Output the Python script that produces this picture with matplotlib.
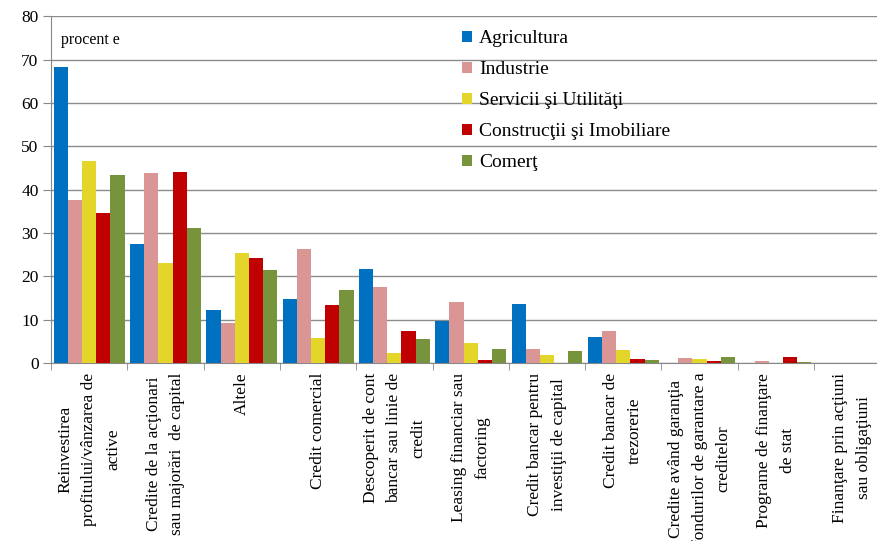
import numpy as np
import matplotlib
matplotlib.use("Agg")
import matplotlib.pyplot as plt

# categories (x axis)
categories = [
    "Reinvestirea\nprofitului/vânzarea de\nactive",
    "Credite de la acţionari\nsau majorări  de capital",
    "Altele",
    "Credit comercial",
    "Descoperit de cont\nbancar sau linie de\ncredit",
    "Leasing financiar sau\nfactoring",
    "Credit bancar pentru\ninvestiţii de capital",
    "Credit bancar de\ntrezorerie",
    "Credite având garanţia\nfondurilor de garantare a\ncreditelor",
    "Programe de finanţare\nde stat",
    "Finanţare prin acţiuni\nsau obligaţiuni",
]

# series values (percent)
agricultura = [68.4, 27.4, 12.2, 14.8, 21.8, 9.8, 13.7, 6.0, 0.0, 0.0, 0.0]
industrie = [37.7, 43.9, 9.2, 26.4, 17.6, 14.0, 3.3, 7.3, 1.1, 0.55, 0.0]
servicii = [46.7, 23.1, 25.4, 5.8, 2.4, 4.6, 1.8, 2.9, 0.85, 0.0, 0.0]
constructii = [34.7, 44.1, 24.2, 13.3, 7.5, 0.6, 0.0, 0.85, 0.4, 1.3, 0.0]
comert = [43.3, 31.1, 21.4, 16.9, 5.6, 3.2, 2.7, 0.7, 1.3, 0.3, 0.0]

series_names = ["Agricultura", "Industrie", "Servicii şi Utilităţi",
                "Construcţii şi Imobiliare", "Comerţ"]
colors = ["#0070C0", "#D99694", "#E3D52A", "#C00000", "#77933C"]
yticks = [0, 10, 20, 30, 40, 50, 60, 70, 80]

plt.rcParams['font.family'] = ['Liberation Serif', 'DejaVu Serif']

fig = plt.figure(figsize=(8.77, 5.41), dpi=100)
ax = fig.add_axes([0.0582, 0.329, 0.957, 0.641])

x = np.arange(len(categories))
w = 0.186
all_series = [agricultura, industrie, servicii, constructii, comert]
for i, (vals, name, c) in enumerate(zip(all_series, series_names, colors)):
    ax.bar(x + (i - 2) * w, vals, width=w, color=c, label=name, zorder=3)

ax.set_xlim(-0.5, len(categories) - 0.5)
ax.set_ylim(0, 80)
ax.set_yticks(yticks)
ax.tick_params(axis='y', labelsize=12.5, length=6, color='#888888', pad=3)
ax.yaxis.grid(True, color='#8c8c8c', linewidth=1, zorder=0)

ax.set_xticks(x)
ax.set_xticklabels(categories, rotation=90, fontsize=12.5, va='top',
                   ha='center', multialignment='center', linespacing=1.65)
ax.set_xticks(np.arange(-0.5, len(categories), 1), minor=True)
ax.tick_params(axis='x', which='major', length=0, pad=7)
ax.tick_params(axis='x', which='minor', length=5, color='#888888')

for s in ['top', 'right']:
    ax.spines[s].set_visible(False)
ax.spines['left'].set_color('#888888')
ax.spines['bottom'].set_color('#888888')

ax.text(0.012, 0.955, "procent e", transform=ax.transAxes, fontsize=11.5,
        va='top', ha='left')

fig.legend(loc='upper left', bbox_to_anchor=(0.516, 0.962), frameon=False,
           fontsize=14, handlelength=0.5, handleheight=0.5,
           handletextpad=0.35, labelspacing=0.72, borderpad=0)

fig.savefig("out.png", dpi=100)
